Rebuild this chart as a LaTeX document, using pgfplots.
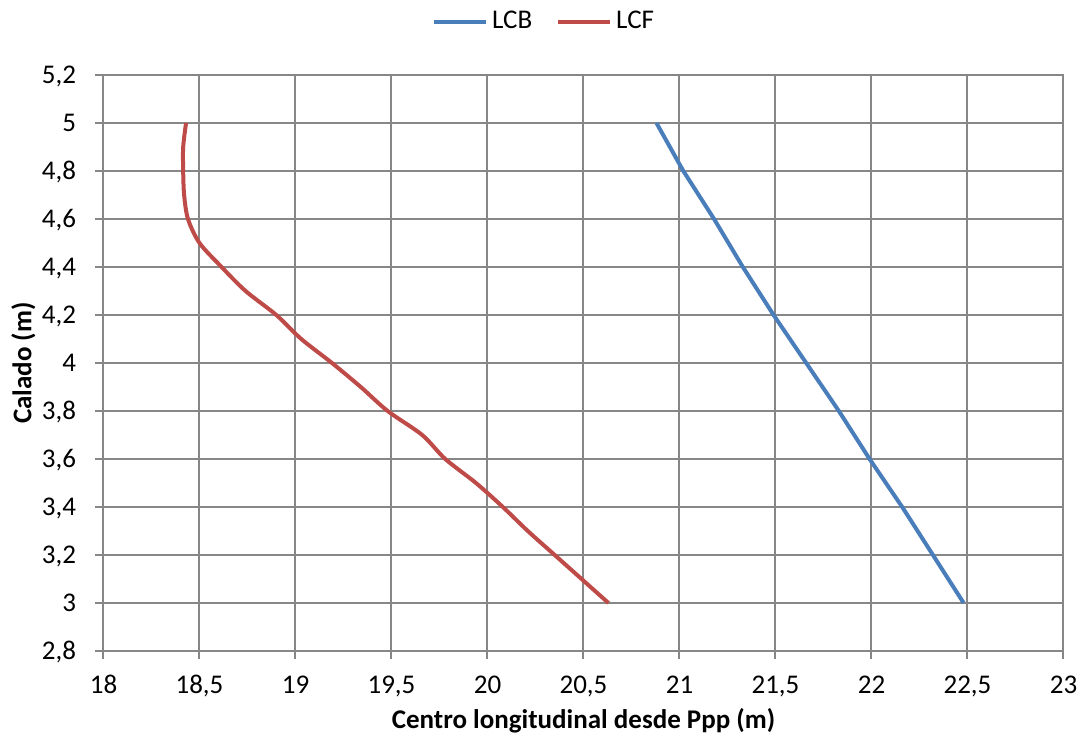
\documentclass[border=0pt]{standalone}
\usepackage{pgfplots}
\pgfplotsset{compat=1.18}
\usepackage{fontspec}
\setmainfont{Carlito}

\definecolor{lcbblue}{HTML}{4A7EBB}
\definecolor{lcfred}{HTML}{BE4B48}
\definecolor{gridgray}{HTML}{878787}

\begin{document}
\fontsize{13.5}{16}\selectfont
\begin{tikzpicture}
% page extent
\path[use as bounding box] (-51.75pt,-46.5pt) rectangle (489.75pt,325.5pt);
\begin{axis}[
  at={(0,0)}, anchor=south west,
  scale only axis,
  width=480pt, height=288pt,
  xmin=18, xmax=23, ymin=2.8, ymax=5.2,
  xtick={18,18.5,...,23},
  ytick={2.8,3,...,5.2},
  grid=major,
  major grid style={gridgray, line width=1pt},
  axis line style={gridgray, line width=1pt},
  tick style={gridgray, line width=1pt},
  tick align=outside,
  major tick length=4pt,
  xtick pos=bottom, ytick pos=left,
  /pgf/number format/use comma,
  /pgf/number format/1000 sep={},
  /pgf/number format/assume math mode=true,
  ticklabel style={font=\fontsize{13.5}{16}\selectfont, inner sep=0pt},
  xticklabel style={anchor=base, yshift=-17pt},
  yticklabel style={anchor=base east, xshift=-9.5pt, yshift=-4.25pt},
  xlabel={\bfseries Centro longitudinal desde Ppp (m)},
  ylabel={\bfseries Calado (m)},
  xlabel style={at={([yshift=-39pt]axis description cs:0.5,0)}, anchor=base, inner sep=0pt},
  ylabel style={at={([xshift=-40pt]axis description cs:0,0.5)}, anchor=center, inner sep=0pt},
  label style={font=\fontsize{13.5}{16}\selectfont},
  legend columns=2,
  legend style={at={(axis description cs:0.46,1.092)}, anchor=center, draw=none,
    font=\fontsize{13.5}{16}\selectfont, column sep=0pt,
    /tikz/every even column/.append style={column sep=10pt}},
  legend image code/.code={\draw[#1] (0pt,0pt) -- (26pt,0pt);},
]
\addplot[lcbblue, line width=2pt] coordinates {
  (20.88,5.0) (21.02,4.8) (21.18,4.6) (21.33,4.4) (21.49,4.2)
  (21.66,4.0) (21.83,3.8) (21.99,3.6) (22.16,3.4) (22.32,3.2) (22.48,3.0)
};
\addlegendentry{LCB}
\addplot[lcfred, line width=2pt, smooth, tension=0.5] coordinates {
  (18.43,5.0) (18.415,4.9) (18.415,4.8) (18.42,4.7) (18.44,4.6)
  (18.50,4.5) (18.615,4.4) (18.74,4.3) (18.90,4.2) (19.03,4.1)
  (19.19,4.0) (19.34,3.9) (19.48,3.8)
  (19.66,3.7) (19.78,3.6)
  (19.94,3.5) (20.08,3.4) (20.21,3.3) (20.35,3.2)
  (20.49,3.1) (20.63,3.0)
};
\addlegendentry{LCF}
\end{axis}
\end{tikzpicture}
\end{document}
